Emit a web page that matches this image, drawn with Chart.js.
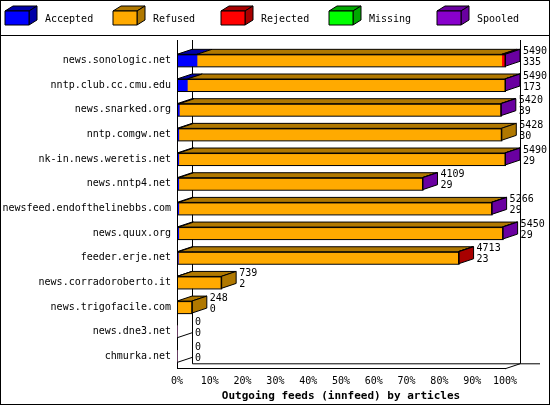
<!DOCTYPE html>
<html><head><meta charset="utf-8">
<script src="https://cdn.jsdelivr.net/npm/chart.js@4/dist/chart.umd.min.js"></script>
<style>body{margin:0;background:#fff}#wrap{width:550px;height:405px}</style>
</head><body><div id="wrap"><canvas id="c"></canvas></div>
<script>
const hosts = ['news.sonologic.net','nntp.club.cc.cmu.edu','news.snarked.org','nntp.comgw.net','nk-in.news.weretis.net','news.nntp4.net','newsfeed.endofthelinebbs.com','news.quux.org','feeder.erje.net','news.corradoroberto.it','news.trigofacile.com','news.dne3.net','chmurka.net'];
const totals   = [5490,5490,5420,5428,5490,4109,5266,5450,4713,739,248,0,0];
const accepted = [335,173,39,30,29,29,29,29,23,2,0,0,0];
const rejected = [50,0,0,0,0,0,0,0,12,0,0,0,0];
const missing  = [0,0,0,0,0,0,0,0,0,0,0,0,0];
const spooled  = [5,5,5,0,5,5,5,5,0,0,0,0,0];
const refused  = totals.map((t,i) => t - accepted[i] - rejected[i] - missing[i] - spooled[i]);
const maxTotal = 5490;

const series = [
  {label:'Accepted', data:accepted, color:'#0000ff', dark:'#0000a8'},
  {label:'Refused',  data:refused,  color:'#ffaa00', dark:'#b07800'},
  {label:'Rejected', data:rejected, color:'#ff0000', dark:'#a80000'},
  {label:'Missing',  data:missing,  color:'#00ff00', dark:'#00a800'},
  {label:'Spooled',  data:spooled,  color:'#8800cc', dark:'#6a00a0'}
];
const DX = 15, DY = 5;
const FONT = '10px "DejaVu Sans Mono", monospace';

function poly(ctx, pts, fill) {
  ctx.beginPath();
  ctx.moveTo(pts[0][0], pts[0][1]);
  pts.slice(1).forEach(p => ctx.lineTo(p[0], p[1]));
  ctx.closePath();
  ctx.fillStyle = fill; ctx.fill();
  ctx.strokeStyle = '#000'; ctx.lineWidth = 1; ctx.stroke();
}

const deco = {
  id: 'deco',
  beforeDatasetsDraw(chart) {
    const ctx = chart.ctx, a = chart.chartArea;
    ctx.save();
    ctx.strokeStyle = '#000'; ctx.lineWidth = 1;
    ctx.beginPath();
    ctx.moveTo(a.left + DX + .5, a.top - 8); ctx.lineTo(a.left + DX + .5, a.bottom - DY);
    ctx.lineTo(a.right + DX + 20, a.bottom - DY);
    ctx.moveTo(a.right + DX + .5, a.top - 8); ctx.lineTo(a.right + DX + .5, a.bottom - DY);
    ctx.moveTo(a.right, a.bottom); ctx.lineTo(a.right + DX, a.bottom - DY);
    ctx.moveTo(a.left + .5, a.top - 8); ctx.lineTo(a.left + .5, a.bottom);
    ctx.stroke();
    ctx.restore();
  },
  afterDatasetsDraw(chart) {
    const ctx = chart.ctx;
    ctx.save();
    hosts.forEach((h, i) => {
      let last = null, x0 = null, y0, y1;
      series.forEach((s, d) => {
        const bar = chart.getDatasetMeta(d).data[i];
        y0 = bar.y - bar.height / 2; y1 = bar.y + bar.height / 2;
        if (x0 === null) x0 = bar.base;
        if (s.data[i] > 0) {
          poly(ctx, [[bar.base, y0], [bar.x, y0], [bar.x + DX, y0 - DY], [bar.base + DX, y0 - DY]], s.dark);
          last = {bar, s};
        }
      });
      let endX = x0;
      if (last) {
        endX = last.bar.x;
        poly(ctx, [[endX, y0], [endX + DX, y0 - DY], [endX + DX, y1 - DY], [endX, y1]], last.s.dark);
        ctx.strokeStyle = '#000';
        ctx.strokeRect(x0 + .5, y0 + .5, endX - x0, y1 - y0);
      } else {
        ctx.beginPath(); ctx.moveTo(x0, y1); ctx.lineTo(x0 + DX, y1 - DY); ctx.stroke();
      }
      ctx.fillStyle = '#000'; ctx.font = FONT; ctx.textAlign = 'left'; ctx.textBaseline = 'middle';
      ctx.fillText(String(totals[i]), endX + DX + 3, y0 - 3);
      ctx.fillText(String(accepted[i]), endX + DX + 3, y0 + 8);
    });
    ctx.restore();
  },
  afterDraw(chart) {
    const ctx = chart.ctx;
    ctx.save();
    ctx.strokeStyle = '#000'; ctx.lineWidth = 1;
    ctx.strokeRect(0.5, 0.5, 549, 404);
    ctx.beginPath(); ctx.moveTo(0, 35.5); ctx.lineTo(550, 35.5); ctx.stroke();
    ctx.font = FONT; ctx.textBaseline = 'middle'; ctx.fillStyle = '#000';
    const xs = [5, 113, 221, 329, 437];
    series.forEach((s, k) => {
      const x = xs[k], y = 11, w = 24, h = 14, dx = 8, dy = 5;
      poly(ctx, [[x, y], [x + w, y], [x + w + dx, y - dy], [x + dx, y - dy]], s.dark);
      poly(ctx, [[x + w, y], [x + w + dx, y - dy], [x + w + dx, y + h - dy], [x + w, y + h]], s.dark);
      poly(ctx, [[x, y], [x + w, y], [x + w, y + h], [x, y + h]], s.color);
      ctx.fillStyle = '#000';
      ctx.fillText(s.label, x + 40, 19);
    });
    ctx.restore();
  }
};

new Chart(document.getElementById('c'), {
  type: 'bar',
  data: {
    labels: hosts,
    datasets: series.map(s => ({label: s.label, data: s.data, backgroundColor: s.color,
      borderWidth: 0, barThickness: 12}))
  },
  options: {
    indexAxis: 'y', responsive: true, maintainAspectRatio: false, animation: false,
    layout: {padding: {top: 48, right: 45, left: 0, bottom: 2}},
    plugins: {legend: {display: false}, tooltip: {enabled: false}},
    scales: {
      x: {
        stacked: true, min: 0, max: maxTotal,
        afterBuildTicks: sc => { sc.ticks = [0,1,2,3,4,5,6,7,8,9,10].map(k => ({value: k * maxTotal / 10})); },
        ticks: {color: '#000', font: {family: 'DejaVu Sans Mono', size: 10}, padding: 2,
          callback: v => Math.round(v / maxTotal * 100) + '%'},
        grid: {display: false, drawTicks: true, tickLength: 5, tickColor: '#000'},
        border: {color: '#000'},
        title: {display: true, text: 'Outgoing feeds (innfeed) by articles', color: '#000', padding: 0,
          font: {family: 'DejaVu Sans Mono', size: 11, weight: 'bold'}}
      },
      y: {
        stacked: true,
        afterFit: sc => { sc.width = 177; },
        ticks: {color: '#000', font: {family: 'DejaVu Sans Mono', size: 10}, padding: 6},
        grid: {display: false, tickLength: 0},
        border: {display: false}
      }
    }
  },
  plugins: [deco]
});
</script></body></html>
